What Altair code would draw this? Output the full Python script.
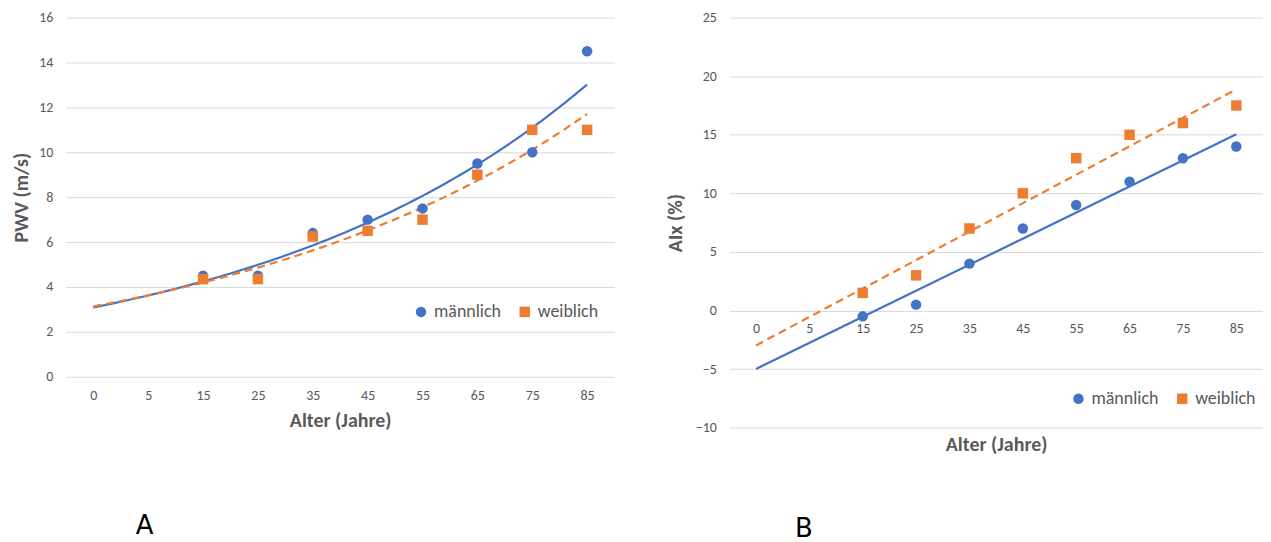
import json
import altair as alt
import pandas as pd

# ---------------- data ----------------
ages = ["0", "5", "15", "25", "35", "45", "55", "65", "75", "85"]
point_ages = ["15", "25", "35", "45", "55", "65", "75", "85"]
sexes = ["männlich", "weiblich"]

pwv_male = [4.5, 4.5, 6.4, 7.0, 7.5, 9.5, 10.0, 14.5]
pwv_female = [4.35, 4.35, 6.25, 6.5, 7.0, 9.0, 11.0, 11.0]
aix_male = [-0.5, 0.5, 4.0, 7.0, 9.0, 11.0, 13.0, 14.0]
aix_female = [1.5, 3.0, 7.0, 10.0, 13.0, 15.0, 16.0, 17.5]

BLUE = "#4472C4"
ORANGE = "#ED7D31"
GRID = "#D9D9D9"
TXT = "#595959"
FONT = "Carlito, Lato, sans-serif"


def make_df(male, female):
    rows = []
    for a, v in zip(point_ages, male):
        rows.append({"x": ages.index(a) + 1, "y": v, "sex": sexes[0]})
    for a, v in zip(point_ages, female):
        rows.append({"x": ages.index(a) + 1, "y": v, "sex": sexes[1]})
    return pd.DataFrame(rows)


pwv_df = make_df(pwv_male, pwv_female)
aix_df = make_df(aix_male, aix_female)

label_expr = json.dumps(ages) + "[datum.value - 1]"
x_scale = alt.Scale(domain=[0.5, 10.5], nice=False, zero=False)


def trend(base, sex, method):
    b = base.transform_filter(alt.datum.sex == sex)
    if method == "exp":
        # Excel-style exponential trendline: least squares on log(y), sampled densely
        b = (b.transform_calculate(ly="log(datum.y)")
             .transform_regression("x", "ly", method="linear", params=True)
             .transform_calculate(xs="sequence(1, 10.001, 0.1)")
             .transform_flatten(["xs"])
             .transform_calculate(x="datum.xs", y="exp(datum.coef[0] + datum.coef[1] * datum.xs)"))
    else:
        b = b.transform_regression("x", "y", method="linear", extent=[1, 10])
    return b


def panel(df, method, ydomain, ystep, ytitle, w, h, xaxis, legend_xy, letter, letter_dx,
          letter_offset, ytitle_pad):
    y_scale = alt.Scale(domain=ydomain, nice=False, zero=False)
    yvals = list(range(ydomain[0], ydomain[1] + 1, ystep))
    yaxis = alt.Axis(values=yvals, grid=True, gridColor=GRID, domain=False, ticks=False,
                     labelPadding=13, title=ytitle, titlePadding=ytitle_pad)
    x_enc = alt.X("x:Q", scale=x_scale, axis=xaxis)
    y_enc = alt.Y("y:Q", scale=y_scale, axis=yaxis)
    base = alt.Chart(df)

    line_m = trend(base, sexes[0], method).mark_line(color=BLUE, strokeWidth=2.2).encode(
        x=x_enc, y=y_enc, order="x:Q")
    line_f = trend(base, sexes[1], method).mark_line(
        color=ORANGE, strokeWidth=2.2, strokeDash=[8, 5]).encode(x=x_enc, y=y_enc, order="x:Q")

    leg = dict(title=None, orient="none", direction="horizontal",
               legendX=legend_xy[0], legendY=legend_xy[1],
               labelFontSize=18, labelColor=TXT, labelFont=FONT,
               symbolSize=110, columnPadding=14, labelOffset=4)
    pts = base.mark_point(filled=True, opacity=1).encode(
        x=x_enc,
        y=y_enc,
        color=alt.Color("sex:N", scale=alt.Scale(domain=sexes, range=[BLUE, ORANGE]),
                        legend=alt.Legend(**leg)),
        shape=alt.Shape("sex:N", scale=alt.Scale(domain=sexes, range=["circle", "square"]),
                        legend=alt.Legend(**leg)),
        size=alt.value(110),
    )
    return alt.layer(line_m, line_f, pts).properties(
        width=w, height=h,
        title=alt.TitleParams(letter, orient="bottom", anchor="start", frame="group",
                              dx=letter_dx, offset=letter_offset, fontSize=26,
                              fontWeight="normal", color="black", font="DejaVu Sans"),
    )


xaxis_left = alt.Axis(values=list(range(1, 11)), labelExpr=label_expr, grid=False, domain=False,
                      ticks=False, labelPadding=12, title="Alter (Jahre)", titlePadding=8)
xaxis_right = alt.Axis(values=list(range(1, 11)), labelExpr=label_expr, grid=False, domain=False,
                       ticks=False, labelPadding=12, title="Alter (Jahre)", titlePadding=99,
                       offset=-118)

left = panel(pwv_df, "exp", [0, 16], 2, "PWV (m/s)", 550, 360, xaxis_left,
             (347, 286), "A", 70, 83, 7)
right = panel(aix_df, "linear", [-10, 25], 5, "AIx (%)", 535, 411, xaxis_right,
              (341, 373), "B", 66, 62, 10)

chart = alt.hconcat(left, right, spacing=50).resolve_scale(
    color="independent", shape="independent"
).properties(padding={"left": 3, "top": 2, "right": 0, "bottom": 0}).configure_view(
    stroke=None
).configure_axis(
    labelColor=TXT, labelFont=FONT, labelFontSize=14,
    titleColor=TXT, titleFont=FONT, titleFontSize=20, titleFontWeight="bold",
)

chart.save("out.html", embed_options={"renderer": "svg", "actions": False})
